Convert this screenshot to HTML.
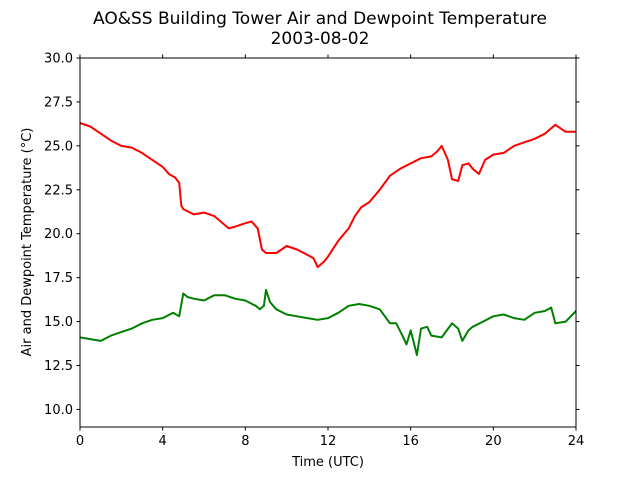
<!DOCTYPE html>
<html><head><meta charset="utf-8"><style>
body{margin:0;background:#fff;}
svg text{font-family:"DejaVu Sans","Liberation Sans",sans-serif;fill:#000;}
</style></head><body>
<svg id="chart" width="640" height="480" xmlns="http://www.w3.org/2000/svg">
<rect width="640" height="480" fill="#fff"/>
<text x="320" y="24" font-size="17" text-anchor="middle">AO&amp;SS Building Tower Air and Dewpoint Temperature</text>
<text x="320" y="44" font-size="17" text-anchor="middle">2003-08-02</text>
<text x="328" y="466" font-size="13" text-anchor="middle">Time (UTC)</text>
<text transform="translate(31,242) rotate(-90)" font-size="13" text-anchor="middle">Air and Dewpoint Temperature (°C)</text>
<g id="ticks"></g>
<g id="series"></g>
<rect x="80" y="58" width="496" height="369" fill="none" stroke="#000" stroke-width="1"/>
</svg>
<script>
const xTicks=[0,4,8,12,16,20,24];
const yTicks=[10.0,12.5,15.0,17.5,20.0,22.5,25.0,27.5,30.0];
const airHours=[0,0.5,1,1.5,2,2.5,3,3.5,4,4.3,4.6,4.8,4.9,5.0,5.5,6,6.5,7,7.2,7.5,8,8.3,8.6,8.8,9.0,9.5,10,10.5,11,11.3,11.5,11.8,12,12.5,13,13.3,13.6,14,14.5,15,15.5,16,16.5,17,17.3,17.5,17.8,18,18.3,18.5,18.8,19,19.3,19.6,20,20.5,21,21.5,22,22.5,23,23.5,24];
const airTemp=[26.3,26.1,25.7,25.3,25.0,24.9,24.6,24.2,23.8,23.4,23.2,22.9,21.6,21.4,21.1,21.2,21.0,20.5,20.3,20.4,20.6,20.7,20.3,19.1,18.9,18.9,19.3,19.1,18.8,18.6,18.1,18.4,18.7,19.6,20.3,21.0,21.5,21.8,22.5,23.3,23.7,24.0,24.3,24.4,24.7,25.0,24.2,23.1,23.0,23.9,24.0,23.7,23.4,24.2,24.5,24.6,25.0,25.2,25.4,25.7,26.2,25.8,25.8];
const dewHours=[0,0.5,1,1.5,2,2.5,3,3.5,4,4.5,4.8,5.0,5.2,5.5,6,6.5,7,7.5,8,8.5,8.7,8.9,9,9.2,9.5,10,10.5,11,11.5,12,12.5,13,13.5,14,14.5,15,15.3,15.6,15.8,16,16.3,16.5,16.8,17,17.5,18,18.3,18.5,18.8,19,19.5,20,20.5,21,21.5,22,22.5,22.8,23,23.5,24];
const dewTemp=[14.1,14.0,13.9,14.2,14.4,14.6,14.9,15.1,15.2,15.5,15.3,16.6,16.4,16.3,16.2,16.5,16.5,16.3,16.2,15.9,15.7,15.9,16.8,16.1,15.7,15.4,15.3,15.2,15.1,15.2,15.5,15.9,16.0,15.9,15.7,14.9,14.9,14.2,13.7,14.5,13.1,14.6,14.7,14.2,14.1,14.9,14.6,13.9,14.5,14.7,15.0,15.3,15.4,15.2,15.1,15.5,15.6,15.8,14.9,15.0,15.6];
const NS="http://www.w3.org/2000/svg";
const X0=80,X1=576,Y0=427,Y1=58,XMIN=0,XMAX=24,YMIN=9,YMAX=30;
function sx(v){return X0+(v-XMIN)/(XMAX-XMIN)*(X1-X0);}
function sy(v){return Y0-(v-YMIN)/(YMAX-YMIN)*(Y0-Y1);}
const tg=document.getElementById('ticks');
function mk(tag,attrs){const e=document.createElementNS(NS,tag);for(const k in attrs)e.setAttribute(k,attrs[k]);return e;}
xTicks.forEach(t=>{
  const x=sx(t);
  const l1=mk('line',{x1:x,x2:x,y1:Y0,y2:Y0+3.5,stroke:'#000'});
  
  
  tg.appendChild(l1);
  const l2=mk('line',{x1:x,x2:x,y1:Y1,y2:Y1-3.5,stroke:'#000'});
  
  
  tg.appendChild(l2);
  const tx=mk('text',{x:x,y:Y0+18,'font-size':13,'text-anchor':'middle'});
  tx.textContent=t;
  
  
  tg.appendChild(tx);
});
yTicks.forEach(t=>{
  const y=sy(t);
  const l1=mk('line',{x1:X0,x2:X0-3.5,y1:y,y2:y,stroke:'#000'});
  
  
  tg.appendChild(l1);
  const l2=mk('line',{x1:X1,x2:X1+3.5,y1:y,y2:y,stroke:'#000'});
  
  
  tg.appendChild(l2);
  const tx=mk('text',{x:X0-7,y:y+4.5,'font-size':13,'text-anchor':'end'});
  tx.textContent=t.toFixed(1);
  
  
  tg.appendChild(tx);
});
const sg=document.getElementById('series');
function line(hs,vs,color,name){
  const d=hs.map((h,i)=>(i?'L':'M')+sx(h).toFixed(1)+','+sy(vs[i]).toFixed(1)).join('');
  const p=mk('path',{d:d,fill:'none',stroke:color,'stroke-width':2,'stroke-linejoin':'round'});
  
  
  sg.appendChild(p);
}
line(airHours,airTemp,'#ff0000','air-temperature-line');
line(dewHours,dewTemp,'#008000','dewpoint-temperature-line');
</script>
</body></html>
